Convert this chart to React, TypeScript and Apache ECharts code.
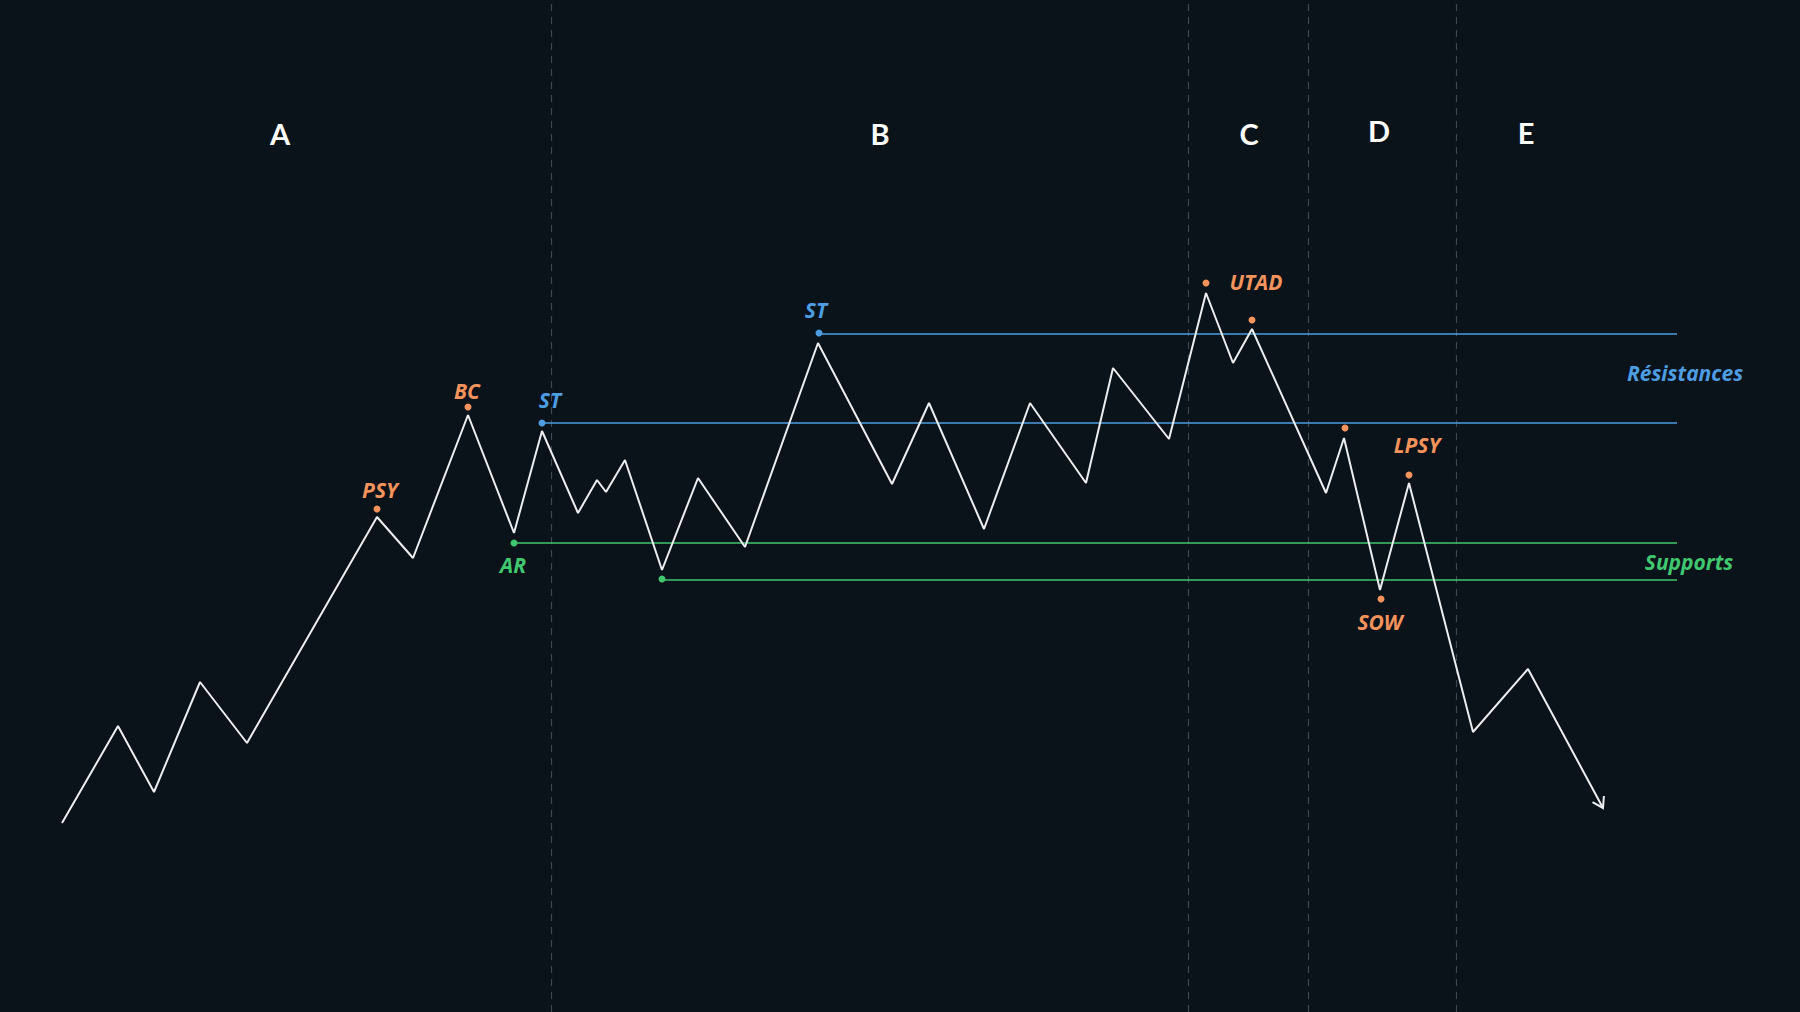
import React, { useEffect, useRef } from "react";
import * as echarts from "echarts";

// Time axis (0..1800) and price axis (0..1012), schematic Wyckoff distribution
const pathTime = [62, 118, 154, 200, 247, 377, 413, 468, 514, 542, 578, 597, 606, 625, 662, 698, 745, 818, 892, 929, 984, 1030, 1086, 1113, 1169, 1206, 1233, 1252, 1326, 1344, 1380, 1409, 1473, 1528, 1603];
const pathPrice = [189, 286, 220, 330, 269, 495, 454, 597, 479, 581, 499, 532, 520, 552, 442, 534, 465, 669, 528, 609, 483, 609, 529, 644, 573, 719, 649, 683, 519, 574, 422, 529, 280, 343, 204];

// Annotated events: [time, price of marker, label]
const orangeEvents: [number, number, string][] = [
  [377, 503, "PSY"],
  [468, 605, "BC"],
  [1206, 729, "UTAD"],
  [1252, 692, ""],
  [1345, 584, ""],
  [1381, 413, "SOW"],
  [1409, 537, "LPSY"],
];
const blueEvents: [number, number, string][] = [
  [542, 589, "ST"],
  [819, 679, "ST"],
];
const greenEvents: [number, number, string][] = [
  [514, 469, "AR"],
  [662, 433, ""],
];

// Horizontal levels: [start time, end time, price]
const resistanceLevels: [number, number, number][] = [
  [819, 1677, 678],
  [542, 1677, 589],
];
const supportLevels: [number, number, number][] = [
  [514, 1677, 469],
  [662, 1677, 432],
];

// Phase boundaries and labels
const phaseBoundaries = [551, 1188, 1308, 1456];
const phaseNames = ["A", "B", "C", "D", "E"];
const phaseTimes = [280, 880, 1249, 1379, 1526];
const phasePrices = [879, 879, 879, 882, 880];

const levelLabels: [number, number, string][] = [
  [1685, 639, "Résistances"],
  [1689, 450, "Supports"],
];

const ORANGE = "#f4935c";
const BLUE = "#4d9de2";
const GREEN = "#3fc86f";
const BG = "#0a121a";
const LABEL_FONT = "Open Sans";
const PHASE_FONT = "Lato";

// label offsets (pixels), parallel to the event lists
const orangeOffsets: [number, number][] = [[3, -19], [-1, -16], [50, -1], [0, 0], [0, 0], [-1, 23], [8, -30]];
const blueOffsets: [number, number][] = [[8, -23], [-3, -23]];
const greenOffsets: [number, number][] = [[-1, 22], [0, 0]];

export default function App() {
  const ref = useRef<HTMLDivElement>(null);
  useEffect(() => {
    if (!ref.current) return;
    const chart = echarts.init(ref.current, null, { renderer: "svg" });

    const pathData = pathTime.map((t, i) => [t, pathPrice[i]]);

    const eventSeries = (
      events: [number, number, string][],
      offsets: [number, number][],
      color: string,
      name: string
    ) => ({
      type: "scatter",
      name,
      symbol: "circle",
      symbolSize: 7,
      itemStyle: { color, opacity: 1 },
      z: 5,
      data: events.map(([t, p, lbl], i) => ({
        value: [t, p],
        label: {
          show: lbl !== "",
          formatter: lbl,
          position: "inside",
          offset: offsets[i],
          color,
          opacity: 1,
          fontFamily: LABEL_FONT,
          fontStyle: "italic",
          fontWeight: "bold",
          fontSize: 21,
        },
      })),
    });

    const levelSeries = (levels: [number, number, number][], color: string) =>
      levels.map((lv) => ({
        type: "line",
        symbol: "none",
        lineStyle: { color, width: 1.6 },
        z: 2,
        data: [
          [lv[0], lv[2]],
          [lv[1], lv[2]],
        ],
      }));

    const textSeries = (name: string, items: any[]) => ({
      type: "scatter",
      name,
      symbol: "circle",
      symbolSize: 2,
      itemStyle: { color: "rgba(0,0,0,0)", opacity: 1 },
      z: 6,
      data: items,
    });

    const option: any = {
      animation: false,
      backgroundColor: BG,
      grid: { left: 0, right: 0, top: 0, bottom: 0 },
      xAxis: { type: "value", min: 0, max: 1800, show: false },
      yAxis: { type: "value", min: 0, max: 1012, show: false },
      series: [
        {
          type: "line",
          name: "boundaries",
          z: 1,
          data: [],
          markLine: {
            silent: true,
            symbol: "none",
            z: 1,
            label: { show: false },
            lineStyle: { color: "#3f464e", type: [7, 6], width: 1.2 },
            data: phaseBoundaries.map((x) => ({ xAxis: x })),
          },
        },
        ...levelSeries(resistanceLevels, BLUE),
        ...levelSeries(supportLevels, GREEN),
        {
          type: "line",
          name: "price",
          symbol: "none",
          lineStyle: { color: "#eceef0", width: 2 },
          z: 4,
          data: pathData,
        },
        {
          type: "custom",
          name: "arrow",
          z: 4,
          data: [pathData.length - 1],
          renderItem: (_p: any, api: any) => {
            const n = pathData.length;
            const end = api.coord(pathData[n - 1]);
            const prev = api.coord(pathData[n - 2]);
            const ang = Math.atan2(end[1] - prev[1], end[0] - prev[0]);
            const len = 12;
            const spread = Math.PI / 5.5;
            const a1 = [end[0] - len * Math.cos(ang - spread), end[1] - len * Math.sin(ang - spread)];
            const a2 = [end[0] - len * Math.cos(ang + spread), end[1] - len * Math.sin(ang + spread)];
            return {
              type: "polyline",
              shape: { points: [a1, end, a2] },
              style: { stroke: "#eceef0", lineWidth: 2, fill: "none" },
            };
          },
        },
        eventSeries(orangeEvents, orangeOffsets, ORANGE, "orange"),
        eventSeries(blueEvents, blueOffsets, BLUE, "blue"),
        eventSeries(greenEvents, greenOffsets, GREEN, "green"),
        textSeries(
          "phases",
          phaseNames.map((n, i) => ({
            value: [phaseTimes[i], phasePrices[i]],
            label: {
              show: true,
              formatter: n,
              position: "inside",
              color: "#ffffff",
              opacity: 1,
              fontFamily: PHASE_FONT,
              fontWeight: "bold",
              fontSize: 29,
            },
          }))
        ),
        textSeries(
          "levelLabels",
          levelLabels.map(([t, p, txt], i) => ({
            value: [t, p],
            label: {
              show: true,
              formatter: txt,
              position: "inside",
              color: i === 0 ? BLUE : GREEN,
              opacity: 1,
              fontFamily: LABEL_FONT,
              fontStyle: "italic",
              fontWeight: "bold",
              fontSize: 21,
            },
          }))
        ),
      ],
    };
    chart.setOption(option);
    return () => chart.dispose();
  }, []);

  return (
    <div
      ref={ref}
      style={{ position: "fixed", left: 0, top: 0, width: 1800, height: 1012 }}
    />
  );
}
